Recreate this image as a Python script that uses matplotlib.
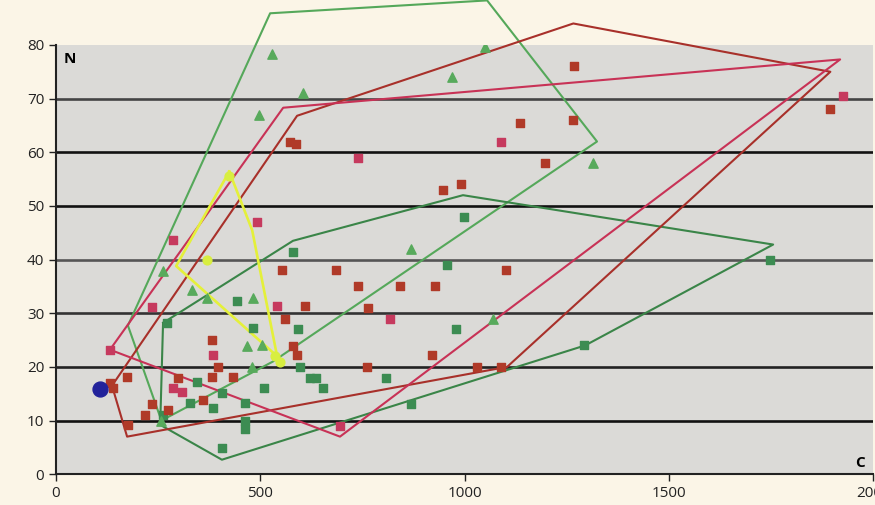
import matplotlib
matplotlib.use("Agg")
from matplotlib import pyplot as plt

plt.rcParams['font.family'] = ['Open Sans', 'DejaVu Sans']

# ---------------- datos ----------------
rojo_x = [133, 140, 174, 176, 218, 235, 274, 299, 360, 382, 397, 382, 434, 553, 561,
          581, 590, 610, 686, 739, 764, 761, 842, 920, 928, 947, 992, 1031, 1089, 1101,
          1136, 1196, 1266, 1268, 1895, 573, 588]
rojo_n = [17, 16, 18.2, 9.2, 11.1, 13, 12, 18, 13.9, 18.2, 20, 25, 18.2, 38, 29,
          23.8, 22.3, 31.4, 38, 35, 31, 20, 35, 22.3, 35, 53, 54, 20, 20, 38,
          65.5, 58, 66, 76, 68, 62, 61.5]

rosa_x = [132, 235, 287, 287, 308, 385, 492, 541, 739, 818, 695, 1090, 1927]
rosa_n = [23.2, 31.2, 43.7, 16, 15.4, 22.2, 47, 31.3, 59, 29, 9, 62, 70.4]

verde_x = [262, 271, 328, 345, 385, 406, 406, 443, 463, 463, 463, 483, 510, 580, 593,
           597, 622, 636, 654, 807, 869, 957, 979, 999, 1292, 1748]
verde_n = [11, 28.2, 13.3, 17.2, 12.4, 15.2, 4.9, 32.2, 13.3, 9.9, 8.5, 27.3, 16, 41.5, 27,
           20, 18, 18, 16, 18, 13, 39, 27, 48, 24, 40]

tri_x = [529, 497, 605, 969, 1050, 1315, 869, 262, 333, 370, 483, 467, 504, 258, 1070, 480]
tri_n = [78.3, 66.9, 71, 74, 79.7, 58, 42, 37.8, 34.4, 32.9, 32.9, 23.8, 24, 10, 29, 20]

amarillo_x = [370, 424, 536, 548]
amarillo_n = [40, 55.5, 22, 21]

azul_x = [108]
azul_n = [15.9]

# contornos
borde_tri_x = [176, 524, 1055, 1324, 531, 258, 176]
borde_tri_n = [27.7, 85.9, 88.3, 62, 21, 10, 27.7]

borde_verde_x = [262, 580, 996, 1755, 1295, 406, 255, 262]
borde_verde_n = [28.2, 43.5, 52, 42.8, 24, 2.7, 9.2, 28.2]

borde_rojo_x = [137, 174, 1104, 1895, 1266, 590, 137]
borde_rojo_n = [16.5, 7, 20, 75, 84, 66.8, 16.5]

borde_rosa_x = [132, 556, 1919, 695, 132]
borde_rosa_n = [23.2, 68.3, 77.3, 7, 23.2]

borde_am_x = [424, 480, 541, 294, 424]
borde_am_n = [56.4, 45.5, 22, 38.8, 56.4]

# ---------------- grafico ----------------
fig = plt.figure(figsize=(8.75, 5.05), dpi=100)
fig.patch.set_facecolor('#FBF5E7')
ax = fig.add_axes([0.064, 0.061, 0.934, 0.85])
ax.set_facecolor('#DBDAD7')
ax.set_xlim(0, 2000)
ax.set_ylim(0, 80)

grises = {10: '#111111', 20: '#222222', 30: '#333333', 40: '#555555',
          50: '#111111', 60: '#111111', 70: '#444444'}
for yv, col in grises.items():
    ax.axhline(yv, color=col, lw=1.9, zorder=1)

ax.plot(borde_tri_x, borde_tri_n, color='#55A85A', lw=1.5, clip_on=False, zorder=2)
ax.plot(borde_verde_x, borde_verde_n, color='#3A8548', lw=1.5, clip_on=False, zorder=2)
ax.plot(borde_rojo_x, borde_rojo_n, color='#A8302A', lw=1.5, clip_on=False, zorder=2)
ax.plot(borde_rosa_x, borde_rosa_n, color='#C83256', lw=1.5, clip_on=False, zorder=2)
ax.plot(borde_am_x, borde_am_n, color='#E4F03A', lw=1.9, clip_on=False, zorder=2)

ax.scatter(verde_x, verde_n, marker='s', s=40, color='#3C8C52', zorder=3)
ax.scatter(rojo_x, rojo_n, marker='s', s=40, color='#B03A28', zorder=3)
ax.scatter(rosa_x, rosa_n, marker='s', s=40, color='#C63A5E', zorder=3)
ax.scatter(tri_x, tri_n, marker='^', s=45, color='#58AA5C', zorder=3)
ax.scatter(amarillo_x, amarillo_n, marker='o', s=40, color='#D8EE40', zorder=3)
ax.scatter(azul_x, azul_n, marker='o', s=115, color='#22229A', zorder=3)

ax.set_xticks([0, 500, 1000, 1500, 2000])
ax.set_yticks(range(0, 90, 10))
ax.tick_params(labelsize=11, colors='#222222', length=5, width=1)
for s in ['top', 'right']:
    ax.spines[s].set_visible(False)
for s in ['left', 'bottom']:
    ax.spines[s].set_color('#222222')
    ax.spines[s].set_linewidth(1.5)

ax.text(34, 77.3, 'N', fontsize=11, fontweight='bold', va='center', ha='center')
ax.text(1968, 2.1, 'C', fontsize=11, fontweight='bold', va='center', ha='center')

fig.savefig('out.png', dpi=100, facecolor=fig.get_facecolor())
